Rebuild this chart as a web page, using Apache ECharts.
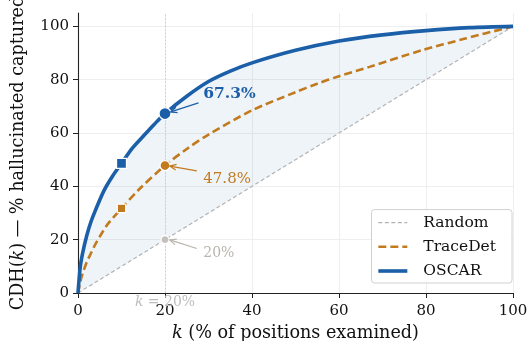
<!DOCTYPE html>
<html>
<head>
<meta charset="utf-8">
<script src="https://cdn.jsdelivr.net/npm/echarts@6/dist/echarts.min.js"></script>
<style>
html,body{margin:0;padding:0;background:#fff;}
#chart{width:527px;height:341px;}
</style>
</head>
<body>
<div id="chart"></div>
<script>
// ---- data ----
const seriesNames = ['Random', 'TraceDet', 'OSCAR'];
const randomK = [0, 100];
const randomV = [0, 100];
const tdK = [0, 0.5, 1, 2, 3, 4, 5.5, 7, 10, 14, 20, 25, 30, 40, 50, 55, 60, 67, 79, 89, 100];
const tdV = [0, 4, 7, 11.5, 15, 18.3, 22.5, 26.2, 31.7, 38.8, 47.8, 54, 59.4, 68.5, 75.3, 78.5, 81.3, 84.8, 91, 95.4, 100];
const oscarK = [0, 0.5, 1, 2, 3, 4, 6, 8, 10, 12.5, 15, 17.5, 20, 25, 30, 35, 40, 50, 60, 70, 80, 90, 100];
const oscarV = [0, 9.5, 14.5, 21.5, 26.8, 31, 38.5, 44, 48.6, 54.3, 58.8, 63.2, 67.3, 73.8, 79.3, 83.2, 86.3, 91, 94.5, 96.8, 98.4, 99.5, 100];
const markK = [10, 20];            // k values that carry markers
const highlightK = 20;             // k = 20% reference line
const annLabels = ['67.3%', '47.8%', '20%'];
const xTicks = [0, 20, 40, 60, 80, 100];
const yTicks = [0, 20, 40, 60, 80, 100];

// ---- styling ----
const FONT = 'DejaVu Serif';
const C_OSCAR = '#1b5fa8';
const C_TD = '#c27a1e';
const C_RAND = '#b3b3b3';
const C_ANN_RAND = '#b9b5ad';
const LW = { Random: 1.2, TraceDet: 2.6, OSCAR: 3.6 };

function pairs(k, v) { return k.map((x, i) => [x, v[i]]); }
function valAt(k, v, x) { return v[k.indexOf(x)]; }
function randAt(x) {
  return randomV[0] + (randomV[1] - randomV[0]) * (x - randomK[0]) / (randomK[1] - randomK[0]);
}

const annotations = [
  { label: annLabels[0], color: C_OSCAR, bold: true, size: 15.5, text: [28.8, 74.8], from: [27.7, 71.3], to: [21.3, 67.9] },
  { label: annLabels[1], color: C_TD, bold: false, size: 15, text: [28.8, 42.8], from: [27.3, 45.8], to: [21.1, 47.6] },
  { label: annLabels[2], color: C_ANN_RAND, bold: false, size: 14, text: [28.8, 14.9], from: [27.3, 16.7], to: [21.1, 19.9] }
];

const chart = echarts.init(document.getElementById('chart'), null, { renderer: 'canvas' });

const TITLE_FS = 17.6;
const option = {
  backgroundColor: '#fff',
  animation: false,
  grid: { left: 78, right: 14, top: 13, bottom: 48, outerBoundsMode: 'none', containLabel: false },
  xAxis: {
    type: 'value', min: 0, max: 100, interval: 20,
    name: '{i|k}{n| (% of positions examined)}',
    nameLocation: 'middle', nameGap: 31,
    nameTextStyle: {
      rich: {
        i: { fontFamily: FONT, fontSize: TITLE_FS, fontStyle: 'italic', color: '#111' },
        n: { fontFamily: FONT, fontSize: TITLE_FS, color: '#111' }
      }
    },
    axisLine: { show: true, onZero: false, lineStyle: { color: '#222', width: 1.1 } },
    axisTick: { show: true, length: 5, lineStyle: { color: '#222' } },
    axisLabel: { fontFamily: FONT, fontSize: 15, color: '#111', margin: 11 },
    splitLine: { show: true, lineStyle: { color: '#eeeeee', width: 1 } }
  },
  yAxis: {
    type: 'value', min: 0, max: 105, interval: 20,
    name: '{n|CDH(}{i|k}{n|) — % hallucinated captured}',
    nameLocation: 'middle', nameGap: 51,
    nameTextStyle: {
      rich: {
        i: { fontFamily: FONT, fontSize: TITLE_FS, fontStyle: 'italic', color: '#111' },
        n: { fontFamily: FONT, fontSize: TITLE_FS, color: '#111' }
      }
    },
    axisLine: { show: true, onZero: false, lineStyle: { color: '#222', width: 1.1 } },
    axisTick: { show: true, length: 5, lineStyle: { color: '#222' }, customValues: yTicks },
    axisLabel: { fontFamily: FONT, fontSize: 15, color: '#111', margin: 9, customValues: yTicks },
    splitLine: { show: true, lineStyle: { color: '#eeeeee', width: 1 } }
  },
  legend: {
    data: seriesNames.map(n => ({ name: n, lineStyle: { width: LW[n] } })),
    orient: 'vertical',
    right: 15, bottom: 58,
    backgroundColor: 'rgba(255,255,255,0.9)',
    borderColor: '#d0d0d0', borderWidth: 1, borderRadius: 3,
    padding: [5, 16, 4, 5],
    itemWidth: 29, itemHeight: 12, itemGap: 8.2,
    itemStyle: { opacity: 0 },
    textStyle: { fontFamily: FONT, fontSize: 15.5, color: '#111', padding: [0, 0, 0, 11] }
  },
  series: [
    {
      type: 'custom', name: 'fill', silent: true, z: 1, clip: true,
      data: [[0, 0]],
      renderItem: function (params, api) {
        const pts = oscarK.map((k, i) => api.coord([k, oscarV[i]]));
        for (let j = randomK.length - 1; j >= 0; j--) pts.push(api.coord([randomK[j], randomV[j]]));
        return { type: 'polygon', shape: { points: pts }, style: { fill: 'rgba(31,95,166,0.07)', stroke: null } };
      }
    },
    {
      name: 'Random', type: 'line', z: 3,
      data: pairs(randomK, randomV),
      symbol: 'none', color: C_RAND,
      lineStyle: { color: C_RAND, width: LW.Random, type: [4, 2.5] },
      markLine: {
        silent: true, symbol: 'none', label: { show: false },
        lineStyle: { color: '#cccccc', width: 1, type: [1.5, 2] },
        data: [{ xAxis: highlightK }]
      }
    },
    {
      name: 'TraceDet', type: 'line', z: 4,
      data: pairs(tdK, tdV),
      symbol: 'none', smooth: 0.3, color: C_TD,
      lineStyle: { color: C_TD, width: LW.TraceDet, type: [8, 4] }
    },
    {
      name: 'OSCAR', type: 'line', z: 5,
      data: pairs(oscarK, oscarV),
      symbol: 'none', smooth: 0.3, color: C_OSCAR,
      lineStyle: { color: C_OSCAR, width: LW.OSCAR }
    },
    {
      type: 'scatter', name: 'oscarMarks', z: 6,
      data: markK.map((k, i) => ({ value: [k, valAt(oscarK, oscarV, k)], symbol: i === 0 ? 'rect' : 'circle', symbolSize: i === 0 ? 10 : 12 })),
      itemStyle: { color: C_OSCAR, borderColor: '#fff', borderWidth: 1.3, opacity: 1 }
    },
    {
      type: 'scatter', name: 'tdMarks', z: 6,
      data: markK.map((k, i) => ({ value: [k, valAt(tdK, tdV, k)], symbol: i === 0 ? 'rect' : 'circle', symbolSize: i === 0 ? 8.5 : 10 })),
      itemStyle: { color: C_TD, borderColor: '#fff', borderWidth: 1.3, opacity: 1 }
    },
    {
      type: 'scatter', name: 'randMarks', z: 6,
      data: [{ value: [highlightK, randAt(highlightK)], symbol: 'circle', symbolSize: 8 }],
      itemStyle: { color: '#c4c1bb', borderColor: '#fff', borderWidth: 1.2, opacity: 1 }
    },
    {
      type: 'custom', name: 'annotations', z: 7, silent: true, clip: false,
      data: annotations.map(a => a.text),
      renderItem: function (params, api) {
        const a = annotations[params.dataIndex];
        const from = api.coord(a.from), to = api.coord(a.to), tp = api.coord(a.text);
        const ang = Math.atan2(from[1] - to[1], from[0] - to[0]);
        const L = 7, w = 0.42;
        const p1 = [to[0] + L * Math.cos(ang + w), to[1] + L * Math.sin(ang + w)];
        const p2 = [to[0] + L * Math.cos(ang - w), to[1] + L * Math.sin(ang - w)];
        return {
          type: 'group', children: [
            { type: 'line', shape: { x1: from[0], y1: from[1], x2: to[0], y2: to[1] }, style: { stroke: a.color, lineWidth: 1.2 } },
            { type: 'polyline', shape: { points: [p1, to, p2] }, style: { stroke: a.color, lineWidth: 1.2, fill: null } },
            { type: 'text', x: tp[0], y: tp[1], style: { text: a.label, fill: a.color, fontFamily: FONT, fontSize: a.size, fontWeight: a.bold ? 'bold' : 'normal', align: 'left', verticalAlign: 'middle' } }
          ]
        };
      }
    },
    {
      type: 'custom', name: 'kLabel', z: 2, silent: true, clip: false,
      data: [[highlightK, -3.4]],
      renderItem: function (params, api) {
        const p = api.coord([api.value(0), api.value(1)]);
        return {
          type: 'text', x: p[0], y: p[1],
          style: {
            text: '{i|k}{n| = ' + highlightK + '%}', align: 'center', verticalAlign: 'middle',
            rich: {
              i: { fontFamily: FONT, fontSize: 14, fontStyle: 'italic', fill: '#bdbdbd' },
              n: { fontFamily: FONT, fontSize: 14, fill: '#bdbdbd' }
            }
          }
        };
      }
    }
  ]
};
chart.setOption(option);
</script>
</body>
</html>
